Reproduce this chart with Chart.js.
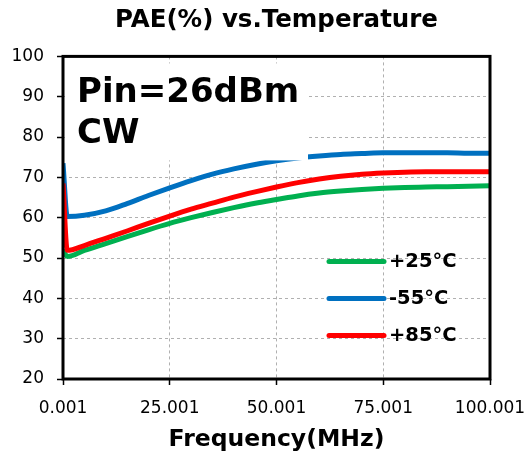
<!DOCTYPE html>
<html>
<head>
<meta charset="utf-8">
<script src="https://cdn.jsdelivr.net/npm/chart.js@4/dist/chart.umd.min.js"></script>
<style>
  html, body { margin: 0; padding: 0; background: #fff; }
  #wrap { width: 528px; height: 462px; position: relative; }
</style>
</head>
<body>
<div id="wrap"><canvas id="c"></canvas></div>
<script>
// ── data ──────────────────────────────────────────────────
const freqs = [0.001, 1.001, 5.001, 10.001, 15.001, 20.001, 25.001, 30.001, 35.001, 40.001, 45.001,
  50.001, 55.001, 60.001, 65.001, 70.001, 75.001, 80.001, 85.001, 90.001, 95.001, 100.001];
const pae25 = [52, 50.4, 51.9, 53.6, 55.3, 57, 58.6, 60, 61.3, 62.5, 63.6,
  64.5, 65.4, 66.1, 66.6, 67, 67.3, 67.5, 67.6, 67.7, 67.8, 67.9];
const paeM55 = [73.5, 60.3, 60.6, 61.7, 63.5, 65.5, 67.4, 69.2, 70.8, 72.1, 73.2,
  74.1, 74.8, 75.3, 75.7, 75.9, 76.1, 76.1, 76.1, 76.1, 76, 76];
const pae85 = [68.5, 51.9, 53.1, 54.9, 56.7, 58.6, 60.4, 62.1, 63.6, 65.1, 66.4,
  67.6, 68.7, 69.6, 70.3, 70.8, 71.1, 71.3, 71.4, 71.4, 71.4, 71.4];
const seriesLabels = ['+25°C', '-55°C', '+85°C'];
const seriesColors = ['#00b050', '#0070c0', '#ff0000'];
const xTicks = [0.001, 25.001, 50.001, 75.001, 100.001];
const yTicks = [20, 30, 40, 50, 60, 70, 80, 90, 100];
const noteLines = ['Pin=26dBm', 'CW'];

const FONT = '"DejaVu Sans", Verdana, sans-serif';

function pts(ys) { return freqs.map((f, i) => ({ x: f, y: ys[i] })); }

// note box (opaque, like the original text box) + frame + inner legend
const decor = {
  id: 'decor',
  afterDatasetsDraw(chart) {
    const { ctx, chartArea: a } = chart;
    ctx.save();
    // the note's white box hides grid and a bit of the -55°C curve
    ctx.fillStyle = '#fff';
    ctx.fillRect(a.left + 2, a.top + 7, 243, 97);

    ctx.strokeStyle = '#000';
    ctx.lineWidth = 3;
    ctx.strokeRect(a.left, a.top, a.right - a.left, a.bottom - a.top);

    ctx.fillStyle = '#000';
    ctx.font = `bold 34px ${FONT}`;
    ctx.textBaseline = 'middle';
    ctx.textAlign = 'left';
    ctx.fillText(noteLines[0], a.left + 14, a.top + 37);
    ctx.fillText(noteLines[1], a.left + 14, a.top + 78);

    ctx.font = `bold 19.5px ${FONT}`;
    chart.data.datasets.forEach((ds, i) => {
      const y = a.top + 205 + i * 37;
      const x0 = a.left + 266;
      ctx.strokeStyle = ds.borderColor;
      ctx.lineWidth = 5;
      ctx.lineCap = 'round';
      ctx.beginPath();
      ctx.moveTo(x0, y);
      ctx.lineTo(x0 + 55, y);
      ctx.stroke();
      ctx.fillText(ds.label, x0 + 60, y + 1);
    });
    ctx.restore();
  }
};

new Chart(document.getElementById('c'), {
  type: 'scatter',
  data: {
    datasets: [pae25, paeM55, pae85].map((ys, i) => ({
      label: seriesLabels[i],
      data: pts(ys),
      showLine: true,
      borderColor: seriesColors[i],
      backgroundColor: seriesColors[i],
      borderWidth: 5,
      pointRadius: 0,
      cubicInterpolationMode: 'monotone',
      order: 2 - i
    }))
  },
  options: {
    responsive: true,
    maintainAspectRatio: false,
    animation: false,
    layout: { padding: { left: 0, right: 38, top: 0, bottom: 0 } },
    plugins: {
      legend: { display: false },
      tooltip: { enabled: false },
      title: {
        display: true,
        fullSize: false,
        text: 'PAE(%) vs.Temperature',
        color: '#000',
        font: { family: FONT, size: 24.5, weight: 'bold' },
        padding: { top: 6, bottom: 21 }
      }
    },
    scales: {
      x: {
        type: 'linear',
        min: 0.001, max: 100.001,
        afterBuildTicks: s => { s.ticks = xTicks.map(v => ({ value: v })); },
        afterFit: s => { s.height = 83; s.paddingLeft = 0; s.paddingRight = 0; },
        ticks: {
          color: '#000', font: { family: FONT, size: 17 }, padding: 13,
          callback: v => v.toFixed(3)
        },
        grid: { color: '#b0b0b0', lineWidth: 1, tickLength: 6, tickColor: '#000', tickWidth: 1.5 },
        border: { display: false, dash: [3, 3] },
        title: {
          display: true, text: 'Frequency(MHz)', color: '#000',
          font: { family: FONT, size: 23.5, weight: 'bold' }, padding: { top: 0, bottom: 8 }
        }
      },
      y: {
        min: 20, max: 100,
        afterBuildTicks: s => { s.ticks = yTicks.map(v => ({ value: v })); },
        afterFit: s => { s.width = 63; },
        ticks: { color: '#000', font: { family: FONT, size: 17 }, padding: 13 },
        grid: { color: '#b0b0b0', lineWidth: 1, tickLength: 6, tickColor: '#000', tickWidth: 1.5 },
        border: { display: false, dash: [3, 3] }
      }
    }
  },
  plugins: [decor]
});
</script>
</body>
</html>
